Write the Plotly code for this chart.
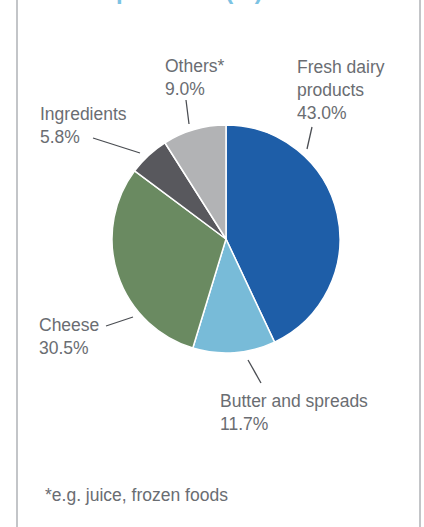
import plotly.graph_objects as go

# Sales split by product category (%)
categories = ["Fresh dairy products", "Butter and spreads", "Cheese", "Ingredients", "Others*"]
shares = [43.0, 11.7, 30.5, 5.8, 9.0]
label_names = ["Fresh dairy<br>products", "Butter and spreads", "Cheese", "Ingredients", "Others*"]
colors = ["#1e5ea8", "#78bbd8", "#6a8a61", "#58585d", "#b2b3b5"]

W, H = 424, 527
TEXT = "#6a6d72"
FONT = "Liberation Sans"

# pie geometry (pixels)
cx, cy, R = 226, 239, 114

# label anchors (left x, vertical centre of text block) and leader lines (pixels)
label_pos = [(295, 90), (218, 412), (37, 336), (38, 126), (163, 78)]
leaders = [
    ((307, 149), (312, 127)),
    ((248, 360), (261, 383)),
    ((133, 317), (106, 326)),
    ((140, 153), (93, 138)),
    ((189, 124), (186, 100)),
]


def px(x):
    return x / W


def py(y):
    return 1 - y / H


fig = go.Figure(
    go.Pie(
        labels=categories,
        values=shares,
        sort=False,
        direction="clockwise",
        rotation=0,
        marker=dict(colors=colors, line=dict(color="white", width=1.5)),
        textinfo="none",
        hoverinfo="label+percent",
        showlegend=False,
        domain=dict(x=[px(cx - R), px(cx + R)], y=[py(cy + R), py(cy - R)]),
    )
)

annotations = []
shapes = []
for name, val, (lx, ly), (p0, p1) in zip(label_names, shares, label_pos, leaders):
    annotations.append(
        dict(
            x=px(lx), y=py(ly), xref="paper", yref="paper",
            xanchor="left", yanchor="middle", align="left",
            text=f"{name}<br>{val:.1f}%", showarrow=False,
            font=dict(family=FONT, size=17.5, color=TEXT),
        )
    )
    shapes.append(
        dict(type="line", xref="paper", yref="paper",
             x0=px(p0[0]), y0=py(p0[1]), x1=px(p1[0]), y1=py(p1[1]),
             line=dict(color="#4a4d52", width=1.3))
    )

# footnote
annotations.append(
    dict(x=px(43), y=py(495), xref="paper", yref="paper",
         xanchor="left", yanchor="middle", showarrow=False,
         text="*e.g. juice, frozen foods",
         font=dict(family=FONT, size=17.5, color=TEXT))
)

# heading running off the top edge
annotations.append(
    dict(x=px(114), y=1, xref="paper", yref="paper",
         xanchor="left", yanchor="bottom", yshift=-6, showarrow=False,
         text="<b>products (%)</b>",
         font=dict(family=FONT, size=24, color="#7cc3e3"))
)

# frame sides
for xv in (17, 420):
    shapes.append(
        dict(type="line", xref="paper", yref="paper",
             x0=px(xv), x1=px(xv), y0=0, y1=1,
             line=dict(color="#c3c5c8", width=2))
    )

fig.update_layout(
    width=W, height=H,
    margin=dict(l=0, r=0, t=0, b=0),
    paper_bgcolor="white", plot_bgcolor="white",
    annotations=annotations, shapes=shapes,
)

fig.write_html("out.html")
